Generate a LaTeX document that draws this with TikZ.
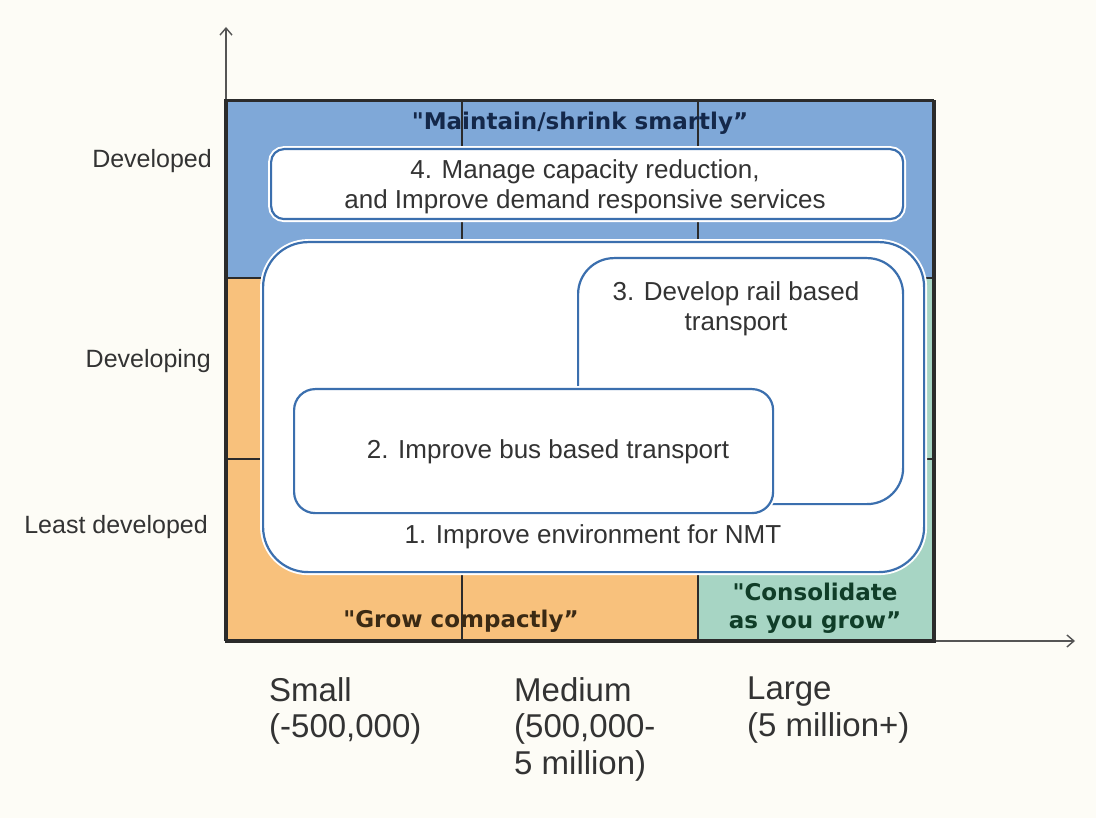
\documentclass[tikz,border=0pt]{standalone}
\usepackage{fontspec}
\setmainfont{Liberation Sans}
\newfontfamily\headfont{DejaVu Sans}
\usetikzlibrary{arrows.meta}

\definecolor{paper}{HTML}{FDFCF6}
\definecolor{bandblue}{HTML}{7FA8D8}
\definecolor{bandorange}{HTML}{F8C17C}
\definecolor{bandteal}{HTML}{A7D5C4}
\definecolor{gridline}{HTML}{2B2B2B}
\definecolor{boxline}{HTML}{3B6FAE}
\definecolor{inktext}{HTML}{333333}
\definecolor{navyink}{HTML}{14284A}
\definecolor{brownink}{HTML}{3B2A14}
\definecolor{greenink}{HTML}{103D28}
\definecolor{axisgray}{HTML}{555555}

\tikzset{
  cell/.style={draw=gridline, line width=1.2pt, anchor=north west, inner sep=0pt, outer sep=0pt},
  frame/.style={draw=gridline, line width=2.5pt, anchor=north west, inner sep=0pt},
  zone/.style={draw=boxline, line width=2.2pt, fill=white, anchor=north west, inner sep=0pt,
    preaction={draw=white, line width=6pt}},
  boxtext/.style={font=\fontsize{26}{30}\selectfont, text=inktext, align=center, inner sep=0pt},
  rowlabel/.style={font=\fontsize{25}{30}\selectfont, text=inktext, anchor=base east, inner sep=0pt},
  sizelabel/.style={font=\fontsize{33}{36.5}\selectfont, text=inktext, align=left, anchor=north west, inner sep=0pt},
  motto/.style={font=\headfont\bfseries\fontsize{23}{28}\selectfont, align=center, inner sep=0pt},
  axis/.style={draw=axisgray, line width=1.4pt, -{Straight Barb[length=7pt,width=12pt]}},
}

\begin{document}
\begin{tikzpicture}[x=1pt, y=-1pt]
  % page
  \fill[paper] (0,0) rectangle (1096,818);
  \useasboundingbox (0,0) rectangle (1096,818);

  % axes
  \coordinate (O) at (226,641);
  \coordinate (ytip) at (226,27);
  \coordinate (xtip) at (1075,641);
  \draw[axis] (O) -- (ytip);
  \draw[axis] (O) -- (xtip);

  % 3x3 grid of cells: rows = development level, columns = city size
  \node[cell, fill=bandblue, minimum width=237, minimum height=178] (c11) at (225,100) {};
  \node[cell, fill=bandblue, minimum width=236, minimum height=178] (c12) at (462,100) {};
  \node[cell, fill=bandblue, minimum width=235, minimum height=178] (c13) at (698,100) {};
  \node[cell, fill=bandorange, minimum width=237, minimum height=181] (c21) at (225,278) {};
  \node[cell, fill=bandorange, minimum width=236, minimum height=181] (c22) at (462,278) {};
  \node[cell, fill=bandteal, minimum width=235, minimum height=181] (c23) at (698,278) {};
  \node[cell, fill=bandorange, minimum width=237, minimum height=181] (c31) at (225,459) {};
  \node[cell, fill=bandorange, minimum width=236, minimum height=181] (c32) at (462,459) {};
  \node[cell, fill=bandteal, minimum width=235, minimum height=181] (c33) at (698,459) {};
  \node[frame, minimum width=708, minimum height=540] (grid) at (225,100) {};

  % mottos of the three zones
  \node[motto, text=navyink, anchor=base] (mtop) at (580,130) {"Maintain/shrink smartly”};
  \node[motto, text=brownink, anchor=base] (mleft) at (461,627) {"Grow compactly”};
  \node[motto, text=greenink, anchor=north] (mright) at (815,583) {"Consolidate\\as you grow”};

  % policy zones
  \node[zone, rounded corners=13pt, minimum width=632, minimum height=70] (z4) at (270,148) {};
  \node[zone, rounded corners=45pt, minimum width=661, minimum height=330] (z1) at (262,241) {};
  \node[zone, rounded corners=36pt, minimum width=325, minimum height=246] (z3) at (577,257) {};
  \node[zone, rounded corners=21pt, minimum width=479, minimum height=124] (z2) at (293,388) {};

  \node[boxtext, anchor=north] (t4) at (585,159) {4. Manage capacity reduction,\\and Improve demand responsive services};
  \node[boxtext, anchor=north] (t3) at (736,281) {3. Develop rail based\\transport};
  \node[boxtext, anchor=base] (t2) at (548,458) {2. Improve bus based transport};
  \node[boxtext, anchor=base] (t1) at (593,543) {1. Improve environment for NMT};

  % development level
  \node[rowlabel] (r1) at (212,168) {Developed};
  \node[rowlabel] (r2) at (211,368) {Developing};
  \node[rowlabel] (r3) at (208,533) {Least developed};

  % city size
  \node[sizelabel] (s1) at (269,677) {Small\\(-500,000)};
  \node[sizelabel] (s2) at (514,677) {Medium\\(500,000-\\5 million)};
  \node[sizelabel] (s3) at (747,677) {Large\\(5 million+)};
\end{tikzpicture}
\end{document}
